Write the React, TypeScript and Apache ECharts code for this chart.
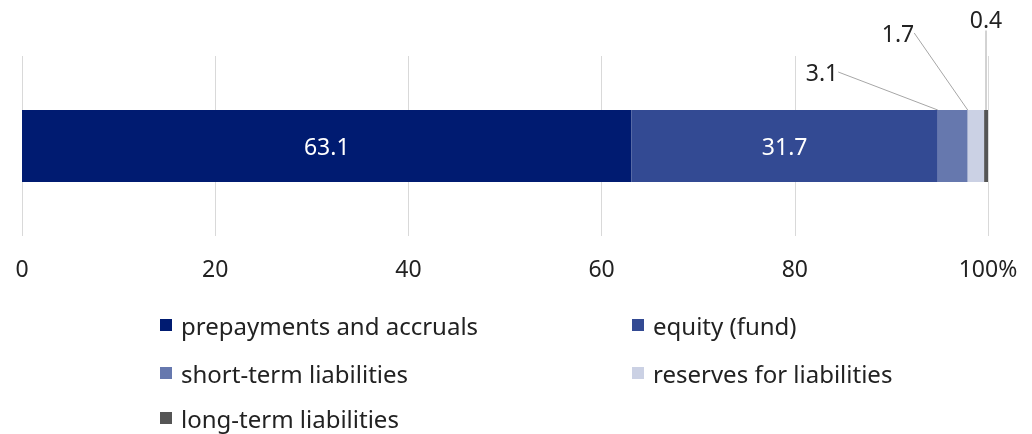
import React, { useEffect, useRef } from "react";
import * as echarts from "echarts";

const categories = ["liabilities"];
const seriesNames = [
  "prepayments and accruals",
  "equity (fund)",
  "short-term liabilities",
  "reserves for liabilities",
  "long-term liabilities",
];
const seriesValues = [63.1, 31.7, 3.1, 1.7, 0.4];
const colors = ["#001b71", "#334a93", "#6678ae", "#cbd1e4", "#555555"];
const xTicks = [0, 20, 40, 60, 80, 100];

const FONT = "'Noto Sans', sans-serif";
const FS = 24;

export default function App() {
  const ref = useRef<HTMLDivElement>(null);
  useEffect(() => {
    if (!ref.current) return;
    const chart = echarts.init(ref.current, undefined, { renderer: "svg" });
    const outsideLabelPos: Record<number, [number, number]> = {
      2: [822, 72],
      3: [898, 33],
      4: [986, 19],
    };
    const series = seriesNames.map((name, i) => {
      const inside = i < 2;
      const base: any = {
        name,
        type: "bar",
        stack: "total",
        barWidth: 72,
        data: [seriesValues[i]],
        itemStyle: { color: colors[i] },
        label: {
          show: true,
          position: inside ? "inside" : "top",
          color: inside ? "#ffffff" : "#222222",
          fontFamily: FONT,
          fontSize: FS - 1,
          formatter: (p: any) => p.value.toFixed(1),
        },
      };
      if (!inside) {
        const [lx, ly] = outsideLabelPos[i];
        base.labelLayout = { x: lx, y: ly, align: "center", verticalAlign: "middle" };
        base.labelLine = { show: true, lineStyle: { color: "#a6a6a6", width: 1 } };
      }
      return base;
    });
    // legend placement: [series index, left, top]
    const legendSlots: [number, number, number][] = [
      [0, 160, 313],
      [1, 632, 313],
      [2, 160, 361],
      [3, 632, 361],
      [4, 160, 406],
    ];
    const legends = legendSlots.map(([idx, left, top]) => ({
      data: [seriesNames[idx]],
      orient: "horizontal",
      left,
      top,
      padding: 0,
      itemWidth: 12,
      itemHeight: 12,
      icon: "rect",
      textStyle: { fontFamily: FONT, fontSize: FS, color: "#222222", padding: [0, 0, 0, 4] },
    }));
    chart.setOption({
      animation: false,
      grid: { left: 22, right: 44, top: 56, bottom: 198, containLabel: false },
      xAxis: {
        type: "value",
        min: 0,
        max: 100,
        interval: 20,
        axisLine: { show: false },
        axisTick: { show: false },
        splitLine: { show: true, lineStyle: { color: "#d9d9d9", width: 1 } },
        axisLabel: {
          margin: 20,
          fontFamily: FONT,
          fontSize: FS - 1,
          color: "#222222",
          formatter: (v: number) => (xTicks.includes(v) ? (v === 100 ? "100%" : String(v)) : ""),
        },
      },
      yAxis: {
        type: "category",
        data: categories,
        show: false,
      },
      legend: legends,
      series,
    });
    return () => chart.dispose();
  }, []);
  return (
    <div
      ref={ref}
      style={{ position: "fixed", left: 0, top: 0, width: 1032, height: 434 }}
    />
  );
}
